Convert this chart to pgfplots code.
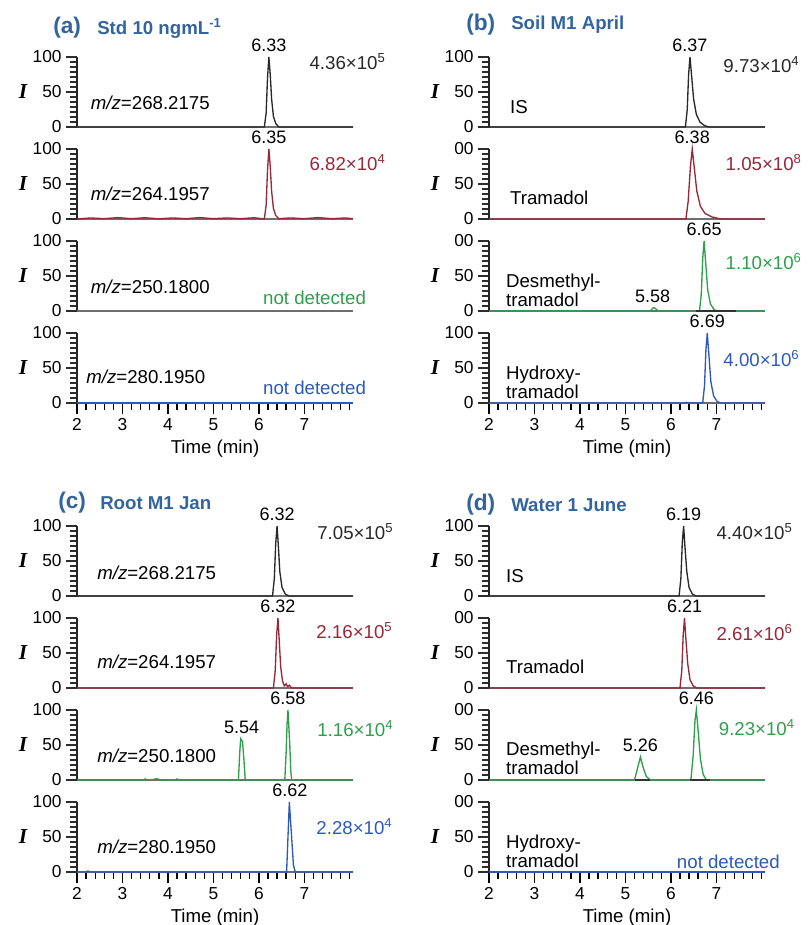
\documentclass[border=0pt]{standalone}
\usepackage{fontspec}
\setmainfont{Liberation Sans}
\newfontfamily\serifI{Liberation Serif}
\usepackage{pgfplots}
\pgfplotsset{compat=1.18}

\definecolor{ttl}{RGB}{50,100,160}
\definecolor{cblk}{RGB}{40,40,40}
\definecolor{cred}{RGB}{150,40,55}
\definecolor{cgrn}{RGB}{45,160,75}
\definecolor{cblu}{RGB}{45,90,185}
\definecolor{axg}{RGB}{110,110,110}
\definecolor{tk}{RGB}{45,45,45}

\newcommand{\U}{0.75pt}
\newcommand{\fs}[1]{\fontsize{#1}{#1}\selectfont}

\pgfplotsset{
  chrom/.style={
    scale only axis, width=207pt, height=52.5pt,
    xmin=2, xmax=8.07, ymin=0, ymax=100, clip=false,
    axis x line=bottom, axis y line=left,
    axis line style={-},
    x axis line style={-, draw=axg, line width=1.8pt},
    y axis line style={-, draw=black!85, line width=1.2pt},
    tick align=outside,
    ytick={0,50,100},
    minor ytick={7.14,14.29,21.43,28.57,35.71,42.86,57.14,64.29,71.43,78.57,85.71,92.86},
    xtick=\empty,
    /pgf/number format/assume math mode=true,
    tick label style={font=\fs{13}},
    ylabel={\serifI\bfseries\itshape I},
    every axis y label/.style={at={(axis description cs:-0.196,0.5)}, anchor=center, font=\fs{16}},
  },
  last/.style={
    xtick={2,3,4,5,6,7},
    minor xtick={2.2,2.4,2.6,2.8,3.2,3.4,3.6,3.8,4.2,4.4,4.6,4.8,5.2,5.4,5.6,5.8,6.2,6.4,6.6,6.8,7.2,7.4,7.6,7.8,8},
    xlabel={Time (min)}, xlabel style={font=\fs{14}},
  },
  % tick marks, given last in every axis
  tks/.style={
    major tick length=8pt, minor tick length=5pt,
    xtick style={black, line width=1pt},
    ytick style={tk, line width=2pt},
  },
  trk/.style={line width=1pt, #1},
}
\tikzset{
  lab/.style={anchor=west, font=\fs{14}, inner sep=0pt, align=left},
  pk/.style={anchor=south, font=\fs{13.5}, inner sep=0pt, yshift=3.5pt},
  amt/.style={anchor=west, font=\fs{14}, inner sep=0pt},
  nd/.style={anchor=east, font=\fs{14}, inner sep=0pt},
  ttla/.style={anchor=west, text=ttl, font=\fs{17}\bfseries, inner sep=0pt},
  ttlb/.style={anchor=west, text=ttl, font=\fs{14}\bfseries, inner sep=0pt},
}

\begin{document}
\begin{tikzpicture}
\useasboundingbox (0,0) rectangle (808*\U,-925*\U);

% titles
\node[ttla] at (53*\U,-28*\U) {(a)};
\node[ttlb] at (97*\U,-28*\U) {Std 10 ngmL\textsuperscript{-1}};
\node[ttla] at (466*\U,-25*\U) {(b)};
\node[ttlb] at (511*\U,-25*\U) {Soil M1 April};
\node[ttla] at (58*\U,-503*\U) {(c)};
\node[ttlb] at (100*\U,-503*\U) {Root M1 Jan};
\node[ttla] at (466*\U,-505*\U) {(d)};
\node[ttlb] at (511*\U,-505*\U) {Water 1 June};

% ---------------- (a) Std 10 ng/mL ----------------
\begin{axis}[chrom, at={(77*\U,-127*\U)}, tks]
\addplot[trk=cblk] coordinates {(2,0)(6.12,0)(6.16,20)(6.19,70)(6.22,100)(6.25,75)(6.28,40)(6.32,15)(6.37,5)(6.44,0)(8.07,0)};
\node[lab] at (axis cs:2.3,35) {\textit{m/z}=268.2175};
\node[pk] at (axis cs:6.22,100) {6.33};
\node[amt,text=cblk] at (axis cs:7.11,93) {4.36×10\textsuperscript{5}};
\end{axis}

\begin{axis}[chrom, at={(77*\U,-219*\U)}, tks]
\addplot[trk=cred] coordinates {(2,0)(2.3,1.5)(2.6,0.5)(2.9,2)(3.2,0.5)(3.5,1.8)(3.8,0.3)(4.1,1.5)(4.4,0.5)(4.7,2)(5.0,0.5)(5.3,1.5)(5.6,0.5)(5.9,1.8)(6.12,0)(6.16,20)(6.19,70)(6.22,100)(6.25,75)(6.28,40)(6.32,15)(6.37,5)(6.44,0.5)(6.7,1.5)(7.0,0.5)(7.3,2)(7.6,0.5)(7.9,1.5)(8.07,0.5)};
\node[lab] at (axis cs:2.3,36) {\textit{m/z}=264.1957};
\node[pk] at (axis cs:6.22,100) {6.35};
\node[amt,text=cred] at (axis cs:7.11,80) {6.82×10\textsuperscript{4}};
\end{axis}

\begin{axis}[chrom, at={(77*\U,-311*\U)}, tks]
\addplot[trk=axg] coordinates {(2,0)(8.07,0)};
\node[lab] at (axis cs:2.3,35) {\textit{m/z}=250.1800};
\node[nd,text=cgrn] at (axis cs:8.36,19) {not detected};
\end{axis}

\begin{axis}[chrom, last, at={(77*\U,-403*\U)}, tks]
\addplot[trk=cblu] coordinates {(2,0)(8.07,0)};
\node[lab] at (axis cs:2.2,38) {\textit{m/z}=280.1950};
\node[nd,text=cblu] at (axis cs:8.36,22) {not detected};
\end{axis}

% ---------------- (b) Soil M1 April ----------------
\begin{axis}[chrom, at={(489*\U,-127*\U)}, tks]
\addplot[trk=cblk] coordinates {(2,0)(6.32,0)(6.36,25)(6.39,75)(6.42,100)(6.46,70)(6.50,40)(6.56,18)(6.64,7)(6.74,2)(6.84,0)(8.07,0)};
\node[lab] at (axis cs:2.46,29) {IS};
\node[pk] at (axis cs:6.42,100) {6.37};
\node[amt,text=cblk] at (axis cs:7.15,89) {9.73×10\textsuperscript{4}};
\end{axis}

\begin{axis}[chrom, at={(489*\U,-219*\U)}, yticklabels={0,50,00}, tks]
\addplot[trk=cred] coordinates {(2,0)(6.33,0)(6.38,25)(6.43,75)(6.47,100)(6.52,70)(6.57,40)(6.65,18)(6.75,8)(6.90,3)(7.10,0)(8.07,0)};
\node[lab] at (axis cs:2.46,30) {Tramadol};
\node[pk] at (axis cs:6.47,100) {6.38};
\node[amt,text=cred] at (axis cs:7.2,80) {1.05×10\textsuperscript{8}};
\end{axis}

\begin{axis}[chrom, at={(489*\U,-311*\U)}, yticklabels={0,50,00}, tks]
\addplot[trk=cgrn] coordinates {(2,0)(5.55,0)(5.60,4)(5.63,5)(5.67,3)(5.72,0)(6.63,0)(6.67,25)(6.70,75)(6.73,100)(6.77,65)(6.81,30)(6.87,10)(6.95,2)(7.02,0)(8.07,0)};
\addplot[line width=0.8pt, black!80] coordinates {(6.56,0)(7.44,0)};
\node[lab] at (axis cs:2.37,30) {Desmethyl-\\tramadol};
\node[pk] at (axis cs:5.6,5) {5.58};
\node[pk] at (axis cs:6.73,100) {6.65};
\node[amt,text=cgrn] at (axis cs:7.2,70) {1.10×10\textsuperscript{6}};
\end{axis}

\begin{axis}[chrom, last, at={(489*\U,-403*\U)}, tks]
\addplot[trk=cblu] coordinates {(2,0)(6.30,0)(6.34,1)(6.38,0)(6.70,0)(6.74,25)(6.77,75)(6.80,100)(6.84,65)(6.88,30)(6.94,10)(7.02,2)(7.10,0)(8.07,0)};
\node[lab] at (axis cs:2.37,29.5) {Hydroxy-\\tramadol};
\node[pk] at (axis cs:6.80,100) {6.69};
\node[amt,text=cblu] at (axis cs:7.15,64) {4.00×10\textsuperscript{6}};
\end{axis}

% ---------------- (c) Root M1 Jan ----------------
\begin{axis}[chrom, at={(77*\U,-596*\U)}, tks]
\addplot[trk=cblk] coordinates {(2,0)(6.30,0)(6.34,25)(6.37,75)(6.40,100)(6.43,70)(6.46,35)(6.51,12)(6.58,3)(6.66,0)(8.07,0)};
\node[lab] at (axis cs:2.44,33) {\textit{m/z}=268.2175};
\node[pk] at (axis cs:6.40,100) {6.32};
\node[amt,text=cblk] at (axis cs:7.28,92) {7.05×10\textsuperscript{5}};
\end{axis}

\begin{axis}[chrom, at={(77*\U,-688*\U)}, tks]
\addplot[trk=cred] coordinates {(2,0)(6.32,0)(6.36,25)(6.39,75)(6.42,100)(6.45,65)(6.48,30)(6.52,10)(6.56,3)(6.60,6)(6.63,2)(6.67,4)(6.72,0)(8.07,0)};
\node[lab] at (axis cs:2.44,37) {\textit{m/z}=264.1957};
\node[pk] at (axis cs:6.42,100) {6.32};
\node[amt,text=cred] at (axis cs:7.26,82) {2.16×10\textsuperscript{5}};
\end{axis}

\begin{axis}[chrom, at={(77*\U,-780*\U)}, tks]
\addplot[trk=cgrn] coordinates {(2,0)(3.45,0)(3.5,1.5)(3.55,0)(3.7,1)(3.75,2)(3.8,1)(3.85,0)(4.15,0)(4.2,1.5)(4.25,0)(5.55,0)(5.58,40)(5.60,59)(5.64,55)(5.67,30)(5.70,0)(6.57,0)(6.60,40)(6.62,80)(6.64,100)(6.66,75)(6.68,50)(6.70,15)(6.72,0)(8.07,0)};
\node[lab] at (axis cs:2.44,34) {\textit{m/z}=250.1800};
\node[pk] at (axis cs:5.62,59) {5.54};
\node[pk] at (axis cs:6.64,100) {6.58};
\node[amt,text=cgrn] at (axis cs:7.28,74) {1.16×10\textsuperscript{4}};
\end{axis}

\begin{axis}[chrom, last, at={(77*\U,-872*\U)}, tks]
\addplot[trk=cblu] coordinates {(2,0)(2.2,0)(2.24,1.5)(2.28,0)(6.61,0)(6.64,50)(6.67,100)(6.70,70)(6.73,40)(6.76,10)(6.80,0)(8.07,0)};
\node[lab] at (axis cs:2.44,36) {\textit{m/z}=280.1950};
\node[pk] at (axis cs:6.68,100) {6.62};
\node[amt,text=cblu] at (axis cs:7.26,65) {2.28×10\textsuperscript{4}};
\end{axis}

% ---------------- (d) Water 1 June ----------------
\begin{axis}[chrom, at={(489*\U,-596*\U)}, tks]
\addplot[trk=cblk] coordinates {(2,0)(6.18,0)(6.22,25)(6.25,75)(6.28,100)(6.31,70)(6.35,35)(6.40,12)(6.47,3)(6.55,0)(8.07,0)};
\node[lab] at (axis cs:2.37,28) {IS};
\node[pk] at (axis cs:6.28,100) {6.19};
\node[amt,text=cblk] at (axis cs:7.0,92) {4.40×10\textsuperscript{5}};
\end{axis}

\begin{axis}[chrom, at={(489*\U,-688*\U)}, yticklabels={0,50,00}, tks]
\addplot[trk=cred] coordinates {(2,0)(6.20,0)(6.24,25)(6.27,75)(6.30,100)(6.33,70)(6.37,35)(6.42,12)(6.49,3)(6.57,0)(8.07,0)};
\node[lab] at (axis cs:2.37,30) {Tramadol};
\node[pk] at (axis cs:6.30,100) {6.21};
\node[amt,text=cred] at (axis cs:7.0,79) {2.61×10\textsuperscript{6}};
\end{axis}

\begin{axis}[chrom, at={(489*\U,-780*\U)}, yticklabels={0,50,00}, tks]
\addplot[trk=cgrn] coordinates {(2,0)(5.20,0)(5.26,15)(5.33,33)(5.39,18)(5.46,5)(5.55,0)(6.44,0)(6.49,35)(6.53,85)(6.56,100)(6.60,70)(6.65,30)(6.71,8)(6.78,0)(8.07,0)};
\addplot[line width=0.8pt, black!80] coordinates {(5.22,0)(5.55,0)};
\addplot[line width=0.8pt, black!80] coordinates {(6.43,0)(6.85,0)};
\node[lab] at (axis cs:2.37,31) {Desmethyl-\\tramadol};
\node[pk] at (axis cs:5.33,33) {5.26};
\node[pk] at (axis cs:6.56,100) {6.46};
\node[amt,text=cgrn] at (axis cs:7.05,75) {9.23×10\textsuperscript{4}};
\end{axis}

\begin{axis}[chrom, last, at={(489*\U,-872*\U)}, yticklabels={0,50,00}, tks]
\addplot[trk=cblu] coordinates {(2,0)(8.07,0)};
\node[lab] at (axis cs:2.37,30) {Hydroxy-\\tramadol};
\node[nd,text=cblu] at (axis cs:8.4,14) {not detected};
\end{axis}

\end{tikzpicture}
\end{document}
